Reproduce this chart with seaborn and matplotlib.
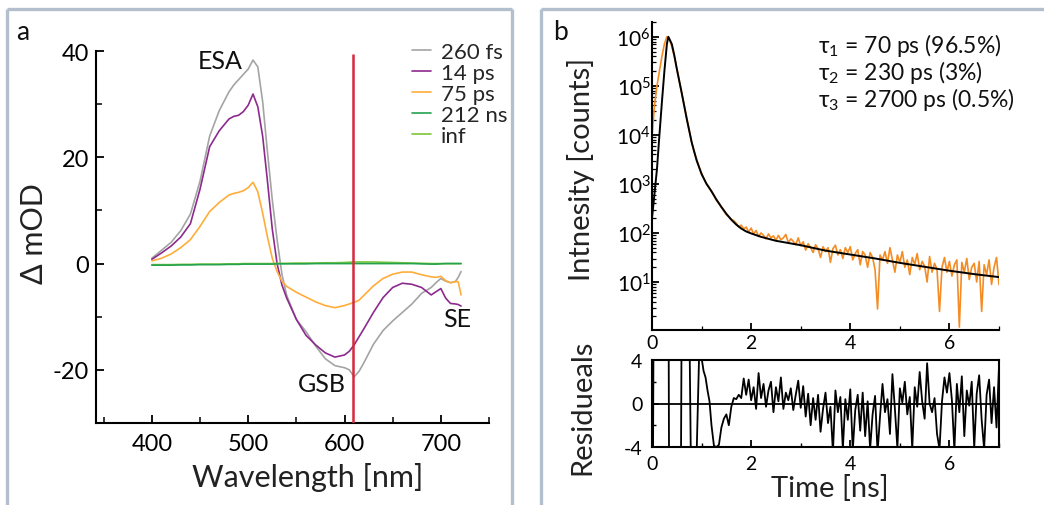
import numpy as np
import pandas as pd
import matplotlib
matplotlib.use("Agg")
import matplotlib.pyplot as plt
import seaborn as sns
from matplotlib.lines import Line2D
from matplotlib.ticker import MultipleLocator, LogLocator, NullFormatter, FixedLocator

sns.set_theme(style="ticks")
plt.rcParams["font.family"] = ["Lato", "DejaVu Sans"]
plt.rcParams["mathtext.fontset"] = "custom"
plt.rcParams["mathtext.rm"] = "Lato"
plt.rcParams["mathtext.it"] = "Lato:italic"
plt.rcParams["mathtext.bf"] = "Lato:bold"
plt.rcParams["axes.unicode_minus"] = False

# ---------------- panel a: transient absorption spectra ----------------
wavelength = [400, 410, 420, 430, 440, 450, 460, 470, 480, 485, 490, 495, 500, 505, 510,
              515, 520, 525, 530, 535, 540, 550, 560, 570, 580, 590, 600, 605,
              610, 615, 620, 630, 640, 650, 660, 670, 680, 690, 695, 700, 705,
              710, 715, 718, 721]
dod_260fs = [1.0, 2.5, 4.0, 6.2, 9.3, 15.5, 24.0, 28.8, 32.3, 33.6, 34.6, 35.6, 36.6, 38.3, 37.0,
             30.5, 21.0, 12.0, 4.5, -2.0, -6.0, -10.5, -12.8, -15.5, -17.9, -19.2, -19.6, -20.0,
             -21.3, -20.3, -18.7, -15.2, -12.6, -10.8, -9.2, -7.6, -5.6, -4.5, -3.6, -2.8, -3.3,
             -3.6, -3.4, -2.6, -1.5]
dod_14ps = [0.8, 2.0, 3.3, 5.0, 7.5, 14.0, 22.0, 25.0, 27.2, 27.7, 27.9, 28.6, 29.8, 31.9, 29.5,
            24.0, 15.5, 6.5, 0.0, -4.0, -6.5, -10.5, -13.5, -15.3, -16.8, -17.6, -17.2, -16.5,
            -15.3, -13.8, -12.3, -9.2, -6.4, -4.5, -3.7, -3.9, -4.5, -5.9, -5.3, -4.7, -6.5,
            -7.5, -7.6, -7.7, -8.0]
dod_75ps = [0.5, 1.0, 1.8, 3.0, 4.5, 7.0, 9.8, 11.5, 12.9, 13.2, 13.4, 13.7, 14.3, 15.3, 13.5,
            9.5, 5.0, 1.0, -1.5, -3.3, -4.3, -5.4, -6.3, -7.2, -7.9, -8.3, -7.9, -7.6,
            -7.3, -6.9, -6.0, -4.2, -2.8, -2.0, -1.6, -1.6, -2.1, -2.5, -2.6, -2.4, -3.2,
            -3.6, -3.4, -3.4, -5.9]
dod_212ns = [-0.3, -0.3, -0.3, -0.25, -0.25, -0.2, -0.2, -0.2, -0.15, -0.15, -0.15, -0.1, -0.1, -0.1, -0.1,
             -0.1, -0.1, -0.1, -0.05, -0.05, -0.05, -0.05, -0.05, 0.0, 0.0, 0.0, 0.0, 0.0,
             0.0, 0.0, 0.0, 0.0, 0.0, 0.0, 0.0, 0.0, -0.05, -0.1, -0.1, -0.05, 0.0,
             0.0, 0.0, 0.0, 0.0]
dod_inf = [-0.2, -0.2, -0.2, -0.15, -0.15, -0.1, -0.1, -0.1, -0.05, -0.05, -0.05, 0.0, 0.0, 0.0, 0.0,
           0.0, 0.0, 0.0, 0.05, 0.05, 0.05, 0.1, 0.1, 0.1, 0.15, 0.15, 0.2, 0.25,
           0.3, 0.3, 0.3, 0.3, 0.25, 0.2, 0.15, 0.1, 0.05, 0.0, 0.0, 0.0, 0.0,
           0.0, 0.0, 0.0, 0.0]
delays = ["260 fs", "14 ps", "75 ps", "212 ns", "inf"]
delay_colors = ["#a4a4a4", "#8c2a8e", "#ffad3a", "#25a24e", "#7cc63a"]
probe_nm = 609

# ---------------- panel b: fluorescence decay ----------------
decay_log_counts = [3.96, 4.6, 5.0, 5.3, 5.6, 5.85, 6.0, 5.95, 5.8, 5.6,
                    5.35, 5.1, 4.85, 4.6, 4.35, 4.1, 3.85, 3.65, 3.5, 3.35,
                    3.22, 3.1, 3.0, 2.93, 2.84, 2.76, 2.66, 2.6, 2.52, 2.45,
                    2.37, 2.33, 2.28, 2.25, 2.2, 2.12, 2.16, 2.08, 2.12, 2.02,
                    2.1, 1.98, 2.05, 1.93, 2.0, 1.95, 1.88, 1.98, 1.9, 1.94,
                    1.85, 1.95, 1.86, 1.9, 1.97, 1.8, 1.88, 1.83, 1.76, 1.9,
                    1.74, 1.82, 1.65, 1.78, 1.7, 1.6, 1.76, 1.68, 1.5, 1.72,
                    1.62, 1.7, 1.4, 1.68, 1.75, 1.55, 1.66, 1.48, 1.7, 1.6,
                    1.72, 1.45, 1.58, 1.66, 1.35, 1.62, 1.55, 1.3, 1.6, 1.5,
                    1.25, 0.45, 1.55, 1.45, 1.62, 1.38, 1.7, 1.45, 1.2, 1.55,
                    1.4, 1.62, 1.3, 1.45, 1.15, 1.5, 1.36, 1.58, 1.25, 1.42,
                    1.32, 1.0, 1.52, 1.2, 1.38, 1.25, 0.4, 1.3, 1.5, 1.2,
                    1.42, 1.12, 1.35, 1.45, 0.08, 1.4, 1.2, 1.48, 1.05, 1.3,
                    1.38, 1.0, 1.42, 0.4, 1.35, 1.15, 1.45, 0.95, 1.3, 1.5,
                    0.95]
decay_step_ns = 0.05

fit_time_ns = [0.0, 0.05, 0.1, 0.15, 0.2, 0.25, 0.3, 0.33, 0.4, 0.45, 0.5, 0.6, 0.7,
               0.8, 0.9, 1.0, 1.1, 1.2, 1.3, 1.4, 1.5, 1.6, 1.7, 1.8, 1.9, 2.0,
               2.2, 2.5, 3.0, 3.5, 4.0, 4.5, 5.0, 5.5, 6.0, 6.5, 7.0]
fit_log_counts = [2.3, 2.8, 3.3, 4.0, 4.67, 5.3, 5.85, 6.0, 5.85, 5.62, 5.35, 4.85, 4.33,
                  3.85, 3.48, 3.2, 3.0, 2.85, 2.68, 2.53, 2.39, 2.27, 2.17, 2.09, 2.03, 1.99,
                  1.92, 1.84, 1.75, 1.64, 1.56, 1.48, 1.39, 1.31, 1.23, 1.16, 1.10]

resid_early_ns = [0.0, 0.05, 0.25, 0.32, 0.36, 0.56, 0.62, 0.70, 0.80, 0.86, 0.97,
                  1.00, 1.04, 1.08, 1.12, 1.16, 1.20, 1.25, 1.30, 1.35, 1.40,
                  1.45, 1.50, 1.55, 1.60, 1.65, 1.70, 1.75, 1.80, 1.85]
resid_early = [-30, 30, 30, 30, -30, -30, 30, 30, -12, -12, 8,
               4.2, 3.0, 2.4, 1.2, 0.2, -2.0, -3.9, -4.0, -3.8, -2.2,
               -1.4, -1.0, -2.0, -0.3, 0.5, 0.4, 0.8, 0.5, 2.3]
resid_late_start_ns = 1.90
resid_late = [0.8, 2.2, 0.3, 1.5, -0.5, 2.8, 0.5, 1.8, -0.3, 1.2,
              2.0, -0.8, 1.5, 0.2, 2.4, -0.5, 1.0, 0.3, 1.4, -0.6,
              0.8, 2.1, -0.4, 1.6, -1.2, 0.9, -2.0, 0.5, -1.5, 0.8,
              -2.6, -0.5, 1.0, -1.8, -0.3, -4.5, 1.2, -0.8, 0.6, -4.2,
              0.4, -1.5, 1.3, -4.3, -0.6, 0.8, -2.5, 1.0, -3.0, 0.2,
              -4.2, -1.0, 0.7, -4.5, -1.2, 1.8, -0.8, 0.4, -2.8, 2.7,
              -0.5, -4.1, 1.4, 0.1, 2.0, -1.0, 0.6, -4.2, 1.5, -0.3,
              2.9, 0.2, -1.4, 3.7, 0.0, -0.8, 0.5, -2.8, -4.2, 0.2,
              2.4, 1.0, 2.8, 0.3, -4.3, 1.8, -0.8, 2.5, -3.0, 1.2,
              -0.2, 2.0, -4.1, 0.9, 2.6, -1.5, -4.2, 0.8, 2.2, -1.8,
              1.5, -2.2, 3.4]

lifetimes = ["70 ps (96.5%)", "230 ps (3%)", "2700 ps (0.5%)"]

# ---------------- figure ----------------
W, H = 1044, 506
fig = plt.figure(figsize=(W / 100, H / 100), dpi=100)
fig.patch.set_facecolor("white")

def fx(px):
    return px / W

def fy(py):
    return 1 - py / H

axA = fig.add_axes([fx(96), fy(424), fx(489 - 96), (424 - 52) / H])
axB = fig.add_axes([fx(652), fy(331), fx(999 - 652), (331 - 23) / H])
axR = fig.add_axes([fx(652), fy(448), fx(999 - 652), (448 - 361) / H])

# panel frames
frame_kw = dict(color="#b3bfcc", lw=2.4, transform=fig.transFigure, solid_capstyle="butt")
fig.add_artist(Line2D([fx(7), fx(7)], [fy(10), 0], **frame_kw))
fig.add_artist(Line2D([fx(7), fx(512)], [fy(10), fy(10)], **frame_kw))
fig.add_artist(Line2D([fx(512), fx(512)], [fy(10), 0], **frame_kw))
fig.add_artist(Line2D([fx(541), fx(541)], [fy(10), 0], **frame_kw))
fig.add_artist(Line2D([fx(541), 1], [fy(10), fy(10)], **frame_kw))

# ----- panel a -----
spectra = pd.DataFrame({"wavelength": wavelength * 5,
                        "dOD": dod_260fs + dod_14ps + dod_75ps + dod_212ns + dod_inf,
                        "delay": np.repeat(delays, len(wavelength))})
draw_order = ["260 fs", "14 ps", "75 ps", "inf", "212 ns"]
for d in draw_order:
    sub = spectra[spectra["delay"] == d]
    sns.lineplot(data=sub, x="wavelength", y="dOD", ax=axA, color=delay_colors[delays.index(d)],
                 lw=1.2, label=d, sort=False, estimator=None)
axA.vlines(probe_nm, -30, 39.5, color="#d42a3a", lw=1.8, zorder=5)

axA.set_xlim(342, 750)
axA.set_ylim(-30, 40)
axA.xaxis.set_major_locator(FixedLocator([400, 500, 600, 700]))
axA.xaxis.set_minor_locator(FixedLocator([350, 450, 550, 650, 750]))
axA.yaxis.set_major_locator(FixedLocator([-20, 0, 20, 40]))
axA.yaxis.set_minor_locator(FixedLocator([-30, -10, 10, 30]))
sns.despine(ax=axA)
for s in ["left", "bottom"]:
    axA.spines[s].set_linewidth(1.5)
    axA.spines[s].set_color("black")
axA.tick_params(which="major", direction="in", length=6, width=1.3, labelsize=17, pad=5, colors="black")
axA.tick_params(which="minor", direction="in", length=4, width=1.1, colors="black")
axA.tick_params(axis="x", which="major", pad=7)
axA.set_xlabel("Wavelength [nm]", fontsize=22, color="#222222")
axA.set_ylabel("Δ mOD", fontsize=22, color="#222222")
axA.xaxis.set_label_coords(0.538, -0.105)
axA.yaxis.set_label_coords(-0.122, 0.513)

handles, labels = axA.get_legend_handles_labels()
order = [labels.index(d) for d in delays]
axA.legend([handles[i] for i in order], [labels[i] for i in order], frameon=False,
           loc="upper left", bbox_to_anchor=(fx(412), fy(43)), bbox_transform=fig.transFigure,
           borderaxespad=0, borderpad=0, fontsize=16, handlelength=0.85, handletextpad=0.45,
           labelspacing=0.04)

axA.text(471, 38.3, "ESA", fontsize=18, ha="center", va="center", color="#111111")
axA.text(577, -22.6, "GSB", fontsize=18, ha="center", va="center", color="#111111")
axA.text(717, -10.4, "SE", fontsize=18, ha="center", va="center", color="#111111")

# ----- panel b: decay -----
decay_t = np.arange(len(decay_log_counts)) * decay_step_ns
decay = pd.DataFrame({"time": decay_t, "counts": 10 ** np.array(decay_log_counts)})
fit = pd.DataFrame({"time": fit_time_ns, "counts": 10 ** np.array(fit_log_counts)})
sns.lineplot(data=decay, x="time", y="counts", ax=axB, color="#f48c24", lw=1.2, estimator=None)
sns.lineplot(data=fit, x="time", y="counts", ax=axB, color="black", lw=1.4, estimator=None)
axB.set_yscale("log")
axB.set_xlim(0, 7)
axB.set_ylim(1.05, 2e6)
axB.xaxis.set_major_locator(MultipleLocator(2))
axB.xaxis.set_minor_locator(MultipleLocator(1))
axB.yaxis.set_major_locator(FixedLocator([1e1, 1e2, 1e3, 1e4, 1e5, 1e6]))
axB.yaxis.set_minor_locator(LogLocator(base=10, subs=np.arange(2, 10), numticks=20))
axB.yaxis.set_minor_formatter(NullFormatter())
sns.despine(ax=axB)
for s in ["left", "bottom"]:
    axB.spines[s].set_linewidth(1.5)
    axB.spines[s].set_color("black")
axB.tick_params(which="major", direction="in", length=5, width=1.3, labelsize=15, colors="black")
axB.tick_params(which="minor", direction="in", length=3, width=0.9, colors="black")
axB.tick_params(axis="y", which="major", pad=1)
axB.tick_params(axis="x", which="major", labelsize=14, pad=3)
axB.set_xlabel("")
axB.set_ylabel("Intnesity [counts]", fontsize=21, color="#222222")
axB.yaxis.set_label_coords(-0.164, 0.523)

for i, txt in enumerate(lifetimes):
    fig.text(fx(818), fy(53 + 27 * i), f"τ$_{{{i + 1}}}$ = {txt}", fontsize=16.5,
             va="baseline", ha="left", color="#111111")

# ----- panel b: residuals -----
resid_t = list(resid_early_ns) + list(resid_late_start_ns + np.arange(len(resid_late)) * 0.05)
resid = pd.DataFrame({"time": resid_t, "res": list(resid_early) + list(resid_late)})
sns.lineplot(data=resid, x="time", y="res", ax=axR, color="black", lw=1.3, estimator=None, sort=False)
axR.axhline(0, color="black", lw=1.3)
axR.set_xlim(0, 7)
axR.set_ylim(-4, 4)
axR.xaxis.set_major_locator(MultipleLocator(2))
axR.xaxis.set_minor_locator(MultipleLocator(1))
axR.yaxis.set_major_locator(FixedLocator([-4, 0, 4]))
axR.yaxis.set_minor_locator(FixedLocator([-2, 2]))
for s in axR.spines.values():
    s.set_linewidth(1.5)
    s.set_color("black")
axR.tick_params(which="major", direction="in", length=5, width=1.3, labelsize=14, pad=6, colors="black")
axR.tick_params(axis="y", which="major", pad=7)
axR.tick_params(which="minor", direction="in", length=3, width=1.0, colors="black")
axR.set_xlabel("Time [ns]", fontsize=21, color="#222222")
axR.set_ylabel("Residueals", fontsize=21, color="#222222")
axR.xaxis.set_label_coords(0.513, -0.31)
axR.yaxis.set_label_coords(-0.164, 0.47)

fig.text(fx(16), fy(40), "a", fontsize=19, va="baseline", color="#111111")
fig.text(fx(553), fy(40), "b", fontsize=19, va="baseline", color="#111111")

fig.savefig("out.png", dpi=100, facecolor="white")
